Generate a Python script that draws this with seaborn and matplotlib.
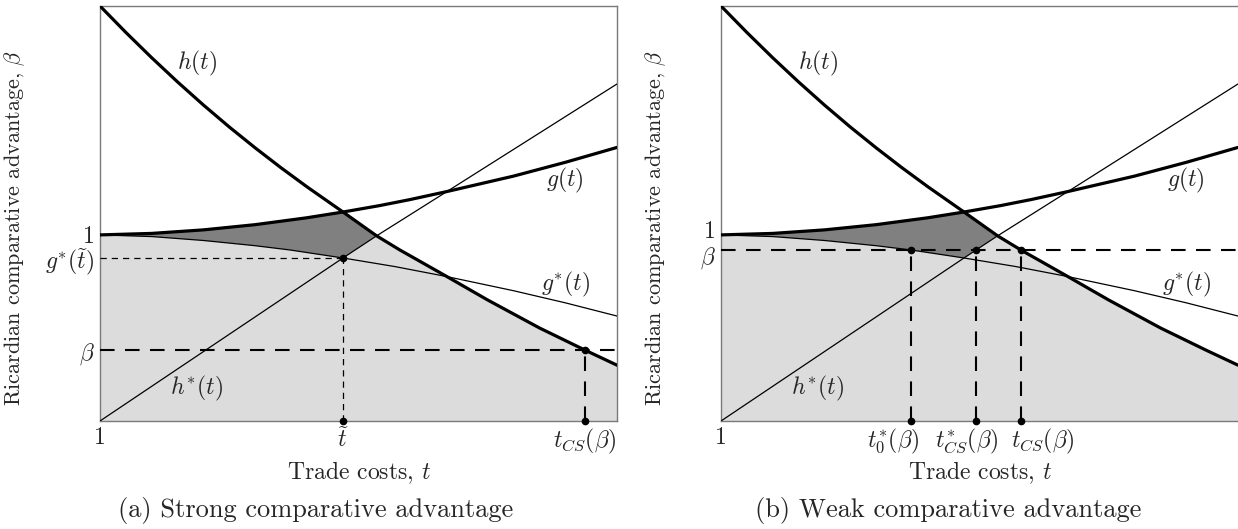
import numpy as np
import matplotlib
matplotlib.use("Agg")
import matplotlib.pyplot as plt
from matplotlib.transforms import ScaledTranslation
import seaborn as sns

# pontos das curvas (t, beta)
t_h = [1.0, 1.1, 1.2, 1.3, 1.4, 1.5, 1.6, 1.7, 1.8, 1.94, 2.07, 2.16, 2.342, 2.5, 2.7, 2.876, 3.0]
b_h = [2.23, 2.088, 1.952, 1.822, 1.698, 1.58, 1.468, 1.361, 1.259, 1.123, 0.995, 0.919, 0.776,
       0.65, 0.50, 0.381, 0.30]

t_g = [1.0, 1.2, 1.4, 1.6, 1.8, 1.94, 2.08, 2.2, 2.342, 2.6, 2.8, 3.0]
b_g = [1.0, 1.008, 1.027, 1.055, 1.092, 1.123, 1.157, 1.19, 1.233, 1.316, 1.39, 1.47]

t_gs = [1.0, 1.2, 1.4, 1.6, 1.735, 1.94, 2.14, 2.342, 2.6, 2.8, 3.0]
b_gs = [1.0, 0.991, 0.97, 0.942, 0.919, 0.876, 0.83, 0.776, 0.70, 0.635, 0.564]

t_hs = [1.0, 1.94, 2.07, 2.342, 3.0]
b_hs = [0.0, 0.876, 0.995, 1.233, 1.811]

# pontos marcados
t_tilde, gs_tilde = 1.94, 0.876
t_cross = 2.07           # h(t) = h*(t)
beta_a, tcs_a = 0.381, 2.876
beta_b = 0.919
t0s_b, tcss_b, tcs_b = 1.735, 1.986, 2.16

sns.set_style("white")
plt.rcParams["font.family"] = "serif"
plt.rcParams["font.serif"] = ["cmr10", "DejaVu Serif"]
plt.rcParams["mathtext.fontset"] = "cm"
plt.rcParams["axes.unicode_minus"] = False

FS = 17
LIGHT = "#dcdcdc"
DARK = "#808080"


def pts(t, b, mask):
    t = np.asarray(t)
    b = np.asarray(b)
    return list(zip(t[mask(t)], b[mask(t)]))


def shift(label, dx=0, dy=0):
    # desloca um rotulo em pixels
    label.set_transform(label.get_transform()
                        + ScaledTranslation(dx / 100, dy / 100, fig.dpi_scale_trans))


def draw_panel(ax):
    eps = 1e-9
    # regiao cinza clara: abaixo de min(h, max(g*, h*))
    light = (pts(t_gs, b_gs, lambda t: t <= t_tilde + eps)
             + pts(t_hs, b_hs, lambda t: (t > t_tilde + eps) & (t <= t_cross + eps))
             + pts(t_h, b_h, lambda t: t > t_cross + eps)
             + [(3.0, 0.0), (1.0, 0.0)])
    ax.fill(*zip(*light), color=LIGHT, lw=0, zorder=1)
    # regiao cinza escura: entre max(g*, h*) e min(g, h)
    dark = (pts(t_g, b_g, lambda t: t <= t_tilde + eps)
            + pts(t_h, b_h, lambda t: (t > t_tilde + eps) & (t <= t_cross + eps))
            + pts(t_gs, b_gs, lambda t: t <= t_tilde + eps)[::-1])
    ax.fill(*zip(*dark), color=DARK, lw=0, zorder=1)

    sns.lineplot(x=t_h, y=b_h, ax=ax, color="black", lw=2.3, zorder=5)
    sns.lineplot(x=t_g, y=b_g, ax=ax, color="black", lw=2.3, zorder=5)
    sns.lineplot(x=t_gs, y=b_gs, ax=ax, color="black", lw=0.9, zorder=4)
    sns.lineplot(x=t_hs, y=b_hs, ax=ax, color="black", lw=0.9, zorder=4)

    ax.text(1.375, 1.92, r"$h(t)$", fontsize=FS, ha="center", va="center")
    ax.text(2.80, 1.295, r"$g(t)$", fontsize=FS, ha="center", va="center")
    ax.text(2.80, 0.736, r"$g^{*}(t)$", fontsize=FS, ha="center", va="center")
    ax.text(1.375, 0.177, r"$h^{*}(t)$", fontsize=FS, ha="center", va="center")

    ax.set_xlim(1, 3)
    ax.set_ylim(0, 2.23)
    for s in ax.spines.values():
        s.set_color("#7a7a7a")
        s.set_linewidth(1.0)
    ax.tick_params(length=0, labelsize=FS, pad=4)
    ax.set_xlabel(r"Trade costs, $t$", fontsize=FS)
    ax.xaxis.set_label_coords(0.5, -0.092)
    ax.set_ylabel(r"Ricardian comparative advantage, $\beta$", fontsize=16)


fig = plt.figure(figsize=(12.38, 5.29), dpi=100)
ax1 = fig.add_axes([100 / 1238, 1 - 421 / 529, 517 / 1238, 415 / 529])
ax2 = fig.add_axes([721 / 1238, 1 - 421 / 529, 517 / 1238, 415 / 529])

dash_thin = dict(color="black", lw=0.9, ls=(0, (5, 4)), zorder=3)
dash_thick = dict(color="black", lw=1.5, ls=(0, (7, 5)), zorder=3)

# painel (a)
draw_panel(ax1)
ax1.plot([1, t_tilde], [gs_tilde, gs_tilde], **dash_thin)
ax1.plot([t_tilde, t_tilde], [0, gs_tilde], **dash_thin)
ax1.plot([1, 3], [beta_a, beta_a], **dash_thick)
ax1.plot([tcs_a, tcs_a], [0, beta_a], **dash_thick)
ax1.plot([t_tilde, tcs_a, t_tilde, tcs_a], [gs_tilde, beta_a, 0, 0], "o",
         color="black", ms=4.5, zorder=6, clip_on=False)
ax1.set_xticks([1, t_tilde, tcs_a], ["1", r"$\widetilde{t}$", r"$t_{CS}(\beta)$"])
ax1.set_yticks([1, gs_tilde, beta_a], ["1", r"$g^{*}(\widetilde{t})$", r"$\beta$"])
ax1.yaxis.set_label_coords(-0.141, 0.465)

# painel (b)
draw_panel(ax2)
ax2.spines["right"].set_visible(False)
ax2.plot([1, 3], [beta_b, beta_b], **dash_thick)
for tv in [t0s_b, tcss_b, tcs_b]:
    ax2.plot([tv, tv], [0, beta_b], **dash_thick)
    ax2.plot([tv, tv], [beta_b, 0], "o", color="black", ms=4.5, zorder=6, clip_on=False)
ax2.set_xticks([1, t0s_b, tcss_b, tcs_b],
               ["1", r"$t_0^{*}(\beta)$", r"$t_{CS}^{*}(\beta)$", r"$t_{CS}(\beta)$"])
ax2.set_yticks([1, beta_b], ["1", r"$\beta$"])
ax2.yaxis.set_label_coords(-0.103, 0.465)

xl = ax2.get_xticklabels()
shift(xl[1], dx=-18)
shift(xl[2], dx=-9)
shift(xl[3], dx=22)
yl = ax2.get_yticklabels()
shift(yl[0], dy=5)
shift(yl[1], dy=-4)

fig.text(316 / 1238, 1 - 511 / 529, "(a) Strong comparative advantage",
         fontsize=19, ha="center", va="center")
fig.text(948 / 1238, 1 - 511 / 529, "(b) Weak comparative advantage",
         fontsize=19, ha="center", va="center")

fig.savefig("out.png", dpi=100)
